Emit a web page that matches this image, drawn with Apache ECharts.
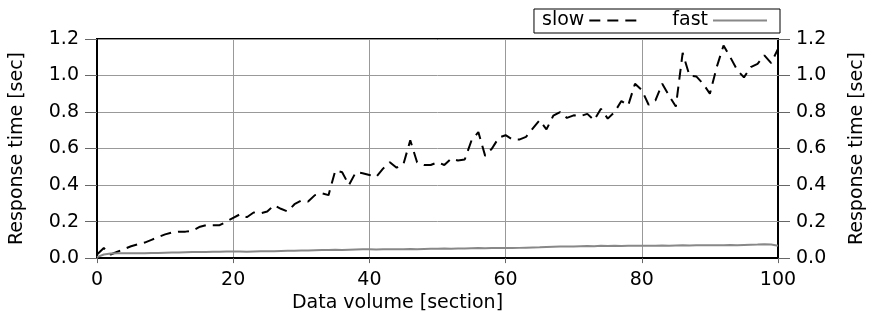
<!DOCTYPE html>
<html>
<head>
<meta charset="utf-8">
<script src="https://cdn.jsdelivr.net/npm/echarts@6/dist/echarts.min.js"></script>
<style>
  html, body { margin: 0; padding: 0; background: #fff; }
  #chart { width: 875px; height: 318px; }
</style>
</head>
<body>
<div id="chart"></div>
<script>
// data volume (section) 0..100, response time in seconds
var sections = [];
for (var i = 0; i <= 100; i++) sections.push(i);

var slowTimes = [
  0.02, 0.055, 0.02, 0.035, 0.05, 0.065, 0.076, 0.085, 0.1, 0.115,
  0.13, 0.14, 0.145, 0.145, 0.15, 0.17, 0.18, 0.18, 0.18, 0.2,
  0.22, 0.24, 0.224, 0.25, 0.245, 0.255, 0.29, 0.27, 0.255, 0.295,
  0.315, 0.31, 0.345, 0.355, 0.345, 0.48, 0.47, 0.40, 0.47, 0.465,
  0.455, 0.445, 0.49, 0.525, 0.495, 0.515, 0.645, 0.525, 0.51, 0.51,
  0.525, 0.51, 0.545, 0.535, 0.54, 0.645, 0.69, 0.56, 0.6, 0.66,
  0.673, 0.65, 0.649, 0.664, 0.71, 0.755, 0.705, 0.78, 0.80, 0.768,
  0.782, 0.778, 0.79, 0.755, 0.818, 0.764, 0.80, 0.86, 0.836, 0.955,
  0.92, 0.84, 0.864, 0.955, 0.89, 0.83, 1.124, 1.0, 0.995, 0.955,
  0.9, 1.046, 1.164, 1.1, 1.03, 0.99, 1.046, 1.064, 1.11, 1.068,
  1.146
];

var fastTimes = [
  0.005, 0.02, 0.025, 0.027, 0.026, 0.027, 0.026, 0.027, 0.028, 0.028,
  0.029, 0.030, 0.031, 0.032, 0.033, 0.034, 0.034, 0.035, 0.035, 0.036,
  0.036, 0.036, 0.035, 0.036, 0.037, 0.037, 0.038, 0.039, 0.040, 0.040,
  0.041, 0.042, 0.043, 0.044, 0.045, 0.046, 0.045, 0.046, 0.047, 0.048,
  0.048, 0.047, 0.048, 0.049, 0.048, 0.049, 0.050, 0.049, 0.050, 0.051,
  0.051, 0.052, 0.051, 0.053, 0.052, 0.054, 0.055, 0.054, 0.055, 0.056,
  0.055, 0.055, 0.056, 0.057, 0.058, 0.059, 0.061, 0.062, 0.063, 0.064,
  0.064, 0.065, 0.066, 0.065, 0.067, 0.066, 0.068, 0.066, 0.067, 0.068,
  0.068, 0.067, 0.068, 0.069, 0.068, 0.069, 0.070, 0.069, 0.070, 0.070,
  0.071, 0.070, 0.071, 0.072, 0.071, 0.072, 0.073, 0.074, 0.076, 0.074,
  0.068
];

var font = 'DejaVu Sans';

function pairs(vals) {
  return vals.map(function (v, i) { return [sections[i], v]; });
}

function yAxisFor(pos) {
  return {
    type: 'value',
    position: pos,
    min: 0, max: 1.2, interval: 0.2,
    name: 'Response time [sec]',
    nameLocation: 'middle',
    nameGap: 70,
    nameTextStyle: { fontFamily: font, fontSize: 19, color: '#000' },
    axisLine: { show: true, lineStyle: { color: '#000', width: pos === 'left' ? 2 : 1 } },
    axisTick: { show: true, length: 12, lineStyle: { color: '#666', width: 1 } },
    axisLabel: {
      margin: 18, color: '#000', fontFamily: font, fontSize: 19,
      formatter: function (v) { return v.toFixed(1); }
    },
    splitLine: { show: pos === 'left', lineStyle: { color: '#999', width: 1 } }
  };
}

var chart = echarts.init(document.getElementById('chart'), null, { renderer: 'canvas' });
chart.setOption({
  backgroundColor: '#fff',
  animation: false,
  grid: {
    left: 97, right: 93, top: 39, bottom: 58,
    show: true, borderColor: '#000', borderWidth: 2, backgroundColor: 'transparent'
  },
  legend: {
    data: ['slow', 'fast'],
    right: 95, top: 9,
    align: 'right',
    padding: [2, 12, 3, 8],
    itemWidth: 54, itemHeight: 14, itemGap: 28,
    borderColor: '#000', borderWidth: 1,
    itemStyle: { opacity: 0 },
    textStyle: { fontFamily: font, fontSize: 19, color: '#000' }
  },
  xAxis: {
    type: 'value',
    min: 0, max: 100, interval: 20,
    name: 'Data volume [section]',
    nameLocation: 'middle',
    nameGap: 30,
    nameTextStyle: { fontFamily: font, fontSize: 19, color: '#000', padding: [0, 80, 0, 0] },
    axisLine: { show: true, lineStyle: { color: '#000', width: 2 } },
    axisTick: { show: true, length: 5, lineStyle: { color: '#666' } },
    axisLabel: { margin: 12, color: '#000', fontFamily: font, fontSize: 19 },
    splitLine: { show: true, lineStyle: { color: '#999', width: 1 } }
  },
  yAxis: [yAxisFor('left'), yAxisFor('right')],
  series: [
    {
      name: 'slow', type: 'line', yAxisIndex: 0,
      data: pairs(slowTimes), symbol: 'none',
      lineStyle: { color: '#000', width: 2, type: [11, 7] },
      itemStyle: { color: '#000' }
    },
    {
      name: 'fast', type: 'line', yAxisIndex: 0,
      data: pairs(fastTimes), symbol: 'none',
      lineStyle: { color: '#888', width: 2 },
      itemStyle: { color: '#888' }
    }
  ]
});
</script>
</body>
</html>
